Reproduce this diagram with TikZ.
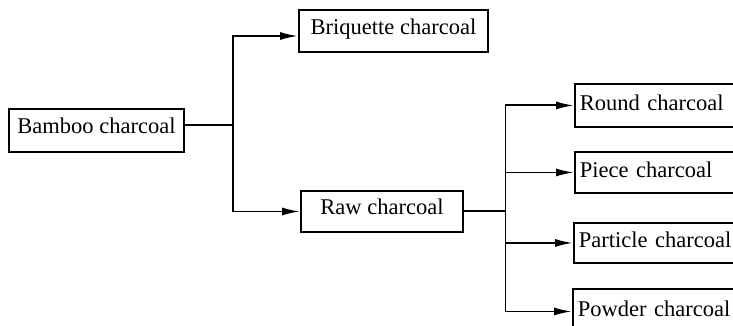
\documentclass[tikz,border=0pt]{standalone}
\usepackage{fontspec}
\setmainfont{Liberation Serif}
\usetikzlibrary{arrows.meta}
\begin{document}
\begin{tikzpicture}[x=1pt,y=-1pt,line width=1.9pt,
  font=\fontsize{22.5pt}{26pt}\selectfont,
  box/.style={draw,rectangle,inner sep=0pt,text height=0.66em,text depth=0pt},
  leftbox/.style={draw,rectangle,inner xsep=5pt,inner ysep=0pt,
    anchor=north west,text width=161pt,align=left,text height=1em,text depth=0pt},
  arr/.style={-{Latex[length=18pt,width=8pt]}}]
\useasboundingbox (0,0) rectangle (733,326);
\clip (0,0) rectangle (733,326);

% first level
\node[box,minimum width=175pt,minimum height=43pt] (bamboo) at (96.5,130.5) {Bamboo charcoal};
\node[box,minimum width=189pt,minimum height=42pt] (briq) at (393.5,31) {Briquette charcoal};
\node[box,minimum width=162pt,minimum height=41pt] (raw) at (382,211.5) {Raw charcoal};

% products of raw charcoal (boxes run past the right edge)
\node[leftbox,minimum height=43pt] (round) at (574,83) {Round charcoal};
\node[leftbox,minimum height=41pt] (piece) at (574,151) {Piece charcoal};
\node[leftbox,minimum height=40pt] (particle) at (573,222) {Particle charcoal};
\node[leftbox,minimum height=45pt] (powder) at (572,288) {Powder charcoal};

% branching from bamboo charcoal
\coordinate (j1) at (233,125);
\draw (bamboo.east |- j1) -- (j1);
\draw[arr] (j1) |- ([yshift=-5pt]briq.west);
\draw[arr] (j1) |- (raw.west);

% branching from raw charcoal
\coordinate (j2) at (505.5,211);
\draw (raw.east |- j2) -- (j2);
\draw[arr] (j2) |- (round.west);
\draw[arr] (j2) |- (piece.west);
\draw[arr] (j2) |- (particle.west);
\draw[arr] (j2) |- (powder.west);
\end{tikzpicture}
\end{document}
